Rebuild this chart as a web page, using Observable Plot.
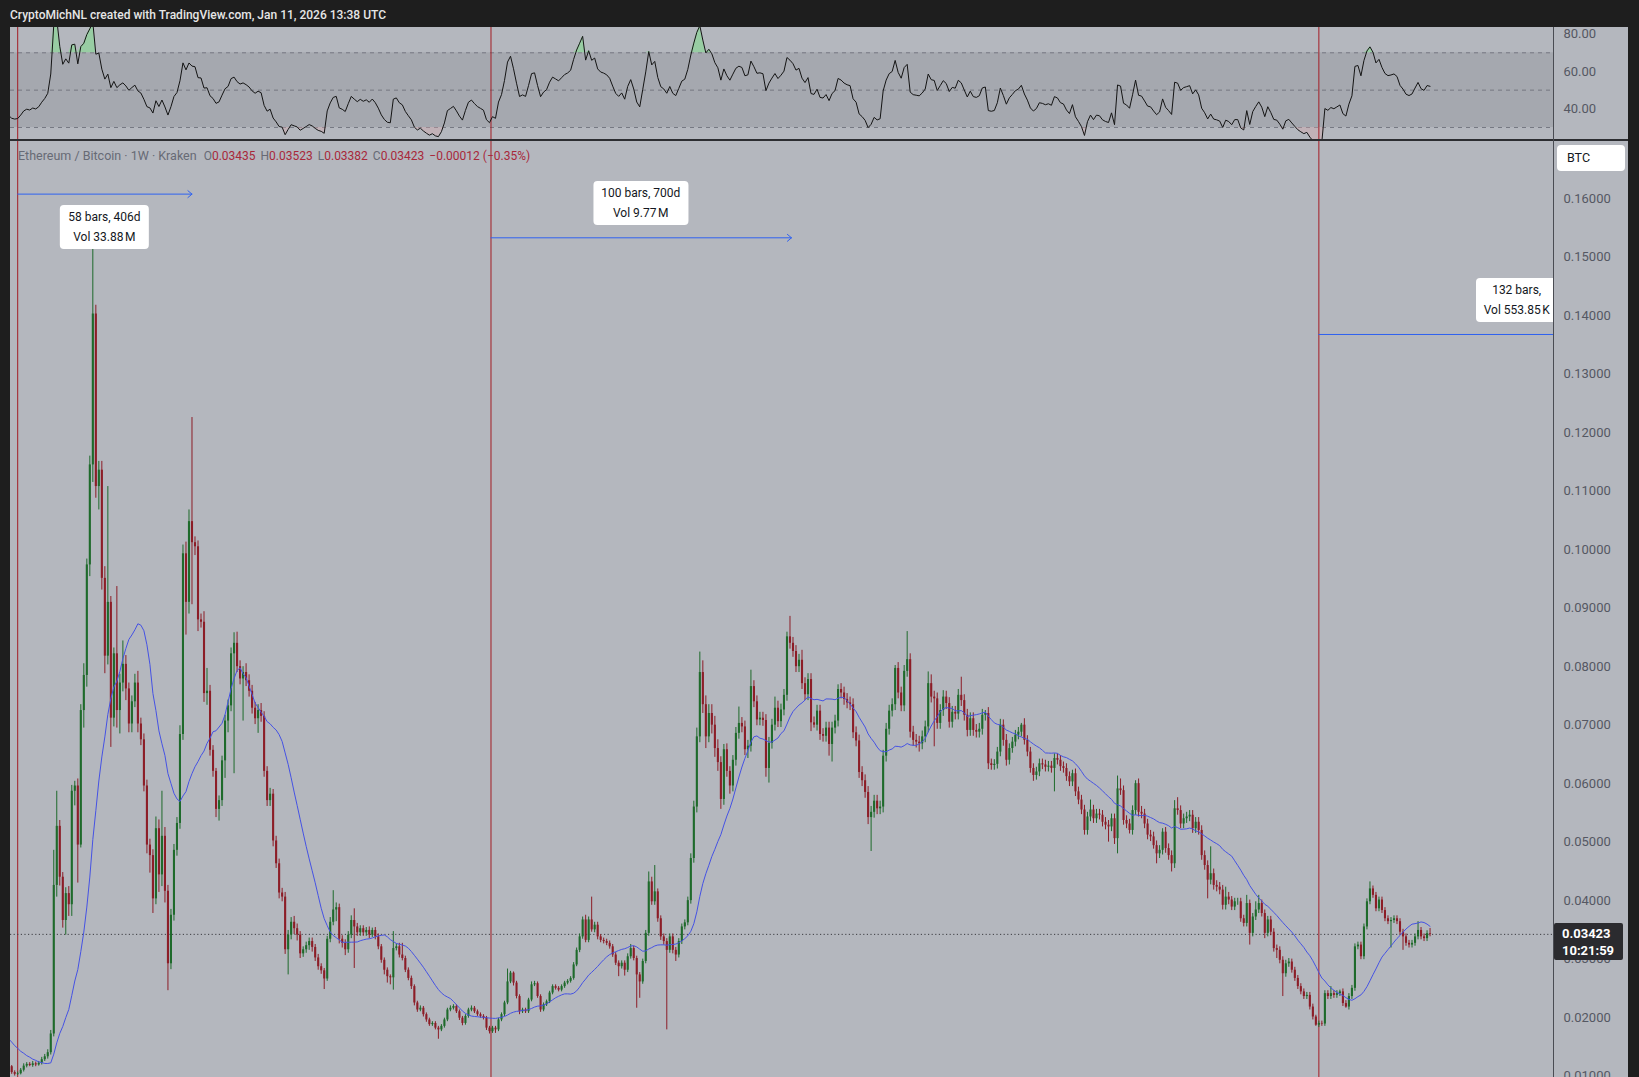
<!DOCTYPE html>
<html>
<head>
<meta charset="utf-8">
<script src="https://cdn.jsdelivr.net/npm/d3@7"></script>
<script src="https://cdn.jsdelivr.net/npm/@observablehq/plot@0.6"></script>
<style>
  html, body { margin: 0; padding: 0; background: #1e1e1e; }
  #root { position: relative; width: 1639px; height: 1077px; overflow: hidden; background: #1e1e1e; font-family: Roboto, "Noto Sans", sans-serif; }
  #title { position: absolute; left: 10px; top: 0; height: 27px; line-height: 30px; color: #e6e6e6; font-size: 12px; font-weight: 500; white-space: nowrap; }
  .panel { position: absolute; left: 10px; }
  #rsiPanel { top: 27px; }
  #mainPanel { top: 140px; }
  #ov { position: absolute; left: 10px; top: 140px; width: 1543px; height: 937px; overflow: hidden; }
  #sepH { position: absolute; left: 10px; top: 139px; width: 1618px; height: 2px; background: #2c2d31; }
  #sepV { position: absolute; left: 1553px; top: 27px; width: 1px; height: 1050px; background: #4a4c53; }
  #legend { position: absolute; left: 18px; top: 146px; font-size: 12px; line-height: 19px; white-space: nowrap; color: #676a75; }
  #legend .sym { font-size: 12.5px; }
  #legend .r { color: #a8283a; }
  #legend .gap { display: inline-block; width: 5px; }
  #legend .gap0 { display: inline-block; width: 7px; }
  .mbox { position: absolute; background: #ffffff; border-radius: 4px; color: #131722; font-size: 12px; line-height: 20px; padding: 2px 8px; text-align: center; white-space: nowrap; transform: translateX(-50%); box-sizing: border-box; height: 44px; }
  #btc { position: absolute; left: 1557px; top: 145px; width: 68px; height: 26px; background: #ffffff; border-radius: 4px; color: #131722; font-size: 12.5px; line-height: 26px; padding-left: 10px; box-sizing: border-box; }
  #lastBox { position: absolute; left: 1554px; width: 69px; height: 37px; background: #2b2b2f; color: #ffffff; font-size: 13px; font-weight: 700; line-height: 17px; padding: 2.5px 0 0 8px; box-sizing: border-box; border-radius: 2px; }
</style>
</head>
<body>
<div id="root">
  <div id="title"></div>
  <div id="rsiPanel" class="panel"></div>
  <div id="mainPanel" class="panel"></div>
  <div id="ov"></div>
  <div id="sepH"></div>
  <div id="sepV"></div>
  <div id="legend"></div>
  <div id="btc">BTC</div>
  <div id="lastBox"></div>
</div>
<script>
// ---------------- DATA ----------------
const titleText = "CryptoMichNL created with TradingView.com, Jan 11, 2026 13:38 UTC";
const symbolText = "Ethereum / Bitcoin · 1W · Kraken";
const legendKeys = ["O", "H", "L", "C"];
const legendValues = ["0.03435", "0.03523", "0.03382", "0.03423"];
const legendChange = "\u22120.00012 (\u22120.35%)";
const lastPrice = 0.03423;
const countdown = "10:21:59";
const unitLabel = "BTC";

// weekly bars, index of first value (bars before 0 lie left of the visible area)
const firstBar = -22;
// weekly closes in units of 0.0001 BTC
const closes = [
  215,225,195,212,185,200,172,188,160,176,150,164,140,152,128,140,118,128,108,116,
  106,103,104,110,117,120,118,121,119,122,
  128,133,140,172,426,527,440,366,412,393,
  587,596,495,725,785,974,1145,1403,1108,1136,
  951,818,910,712,822,725,772,804,762,702,
  740,772,702,675,596,495,477,403,523,444,
  510,416,292,375,486,532,684,993,910,1048,
  1012,1005,880,876,754,758,657,621,556,571,
  639,707,733,822,840,800,779,790,776,758,
  729,711,725,715,621,571,582,502,463,413,
  406,316,341,363,352,341,309,316,323,330,
  320,302,287,280,266,334,363,384,388,334,
  327,316,341,366,355,345,352,345,349,341,
  349,338,321,298,281,270,268,318,321,307,
  301,281,267,253,225,213,216,205,196,188,
  190,182,179,185,196,213,216,219,210,199,
  190,202,213,216,210,205,202,199,182,176,
  182,179,196,205,225,261,276,259,236,210,
  213,210,230,256,258,236,213,222,227,242,
  253,250,247,253,259,262,267,290,315,338,
  367,332,367,350,358,338,332,330,327,321,
  307,293,287,293,281,304,318,301,273,261,
  296,344,432,398,415,369,338,330,315,338,
  315,307,330,355,362,400,472,560,680,790,
  735,680,720,700,660,636,573,658,621,596,
  640,686,703,697,658,664,766,740,709,712,
  708,626,669,700,729,706,726,751,851,840,
  826,800,811,771,752,778,704,700,724,684,
  681,695,667,695,707,761,755,744,738,735,
  687,673,619,605,585,542,551,570,557,560,
  647,693,724,735,797,755,733,792,812,688,
  674,671,668,680,697,771,748,745,703,725,
  748,737,705,722,719,751,742,717,691,711,
  691,688,693,717,720,634,631,633,654,700,
  674,640,660,671,683,688,700,674,654,626,
  614,620,634,632,628,630,626,643,640,629,
  626,612,603,617,586,572,555,520,543,555,
  540,548,546,534,529,526,540,506,591,588,
  537,531,520,554,600,551,548,531,512,509,
  494,480,486,517,489,477,463,557,554,531,
  540,543,546,523,534,520,477,460,435,446,
  426,423,418,392,406,401,389,398,398,369,
  361,395,344,372,384,395,378,344,367,346,
  318,315,298,275,292,295,281,267,253,244,
  236,238,218,201,187,190,189,241,236,241,
  238,241,244,224,218,236,250,321,324,304,
  355,398,420,409,386,401,383,369,364,366,
  369,364,346,338,327,324,327,338,349,338,
  335,343.5,342.3
];
// upper wick above the body, same units
const wickUp = [
  6,6,8,6,8,6,8,6,8,6,6,6,6,6,6,5,5,5,5,5,
  2,3,3,3,4,3,3,4,3,3,
  4,4,5,6,60,60,10,8,10,12,
  10,8,12,10,20,10,15,117,15,15,
  15,20,198,10,10,115,15,40,15,10,
  10,15,20,10,10,10,10,10,20,15,
  77,15,10,10,10,10,15,15,20,20,
  178,10,10,10,18,39,10,8,5,8,
  8,10,10,10,18,19,10,10,15,10,
  10,10,10,12,8,8,10,8,8,8,
  8,8,8,8,10,8,6,5,6,6,
  6,5,6,5,4,5,8,33,8,6,
  6,6,6,8,20,6,5,5,5,6,
  4,5,5,4,4,4,3,29,5,6,
  20,4,4,4,3,3,4,3,3,3,
  3,3,3,3,3,3,4,3,3,3,
  3,3,3,4,3,3,3,3,3,3,
  3,3,3,3,3,22,3,2,3,3,
  3,3,3,5,4,3,3,3,3,3,
  3,3,3,3,3,3,3,4,4,5,
  5,8,5,39,5,5,4,4,4,4,
  4,4,4,4,4,5,7,4,4,4,
  4,5,17,8,45,5,5,5,5,5,
  5,5,5,5,5,6,8,10,15,35,
  20,15,15,15,15,15,10,9,10,8,
  8,10,28,10,10,10,28,10,10,10,
  10,10,10,10,19,12,10,10,8,35,
  10,10,10,17,10,10,10,10,10,10,
  10,10,10,10,10,8,10,10,10,10,
  10,10,10,10,10,10,10,10,10,10,
  10,10,10,10,5,10,10,10,48,10,
  10,10,10,10,10,20,15,10,10,10,
  11,10,10,10,10,10,31,10,10,10,
  10,10,10,10,5,10,8,8,8,10,
  9,10,8,8,8,8,3,11,8,8,
  8,8,8,8,8,8,8,8,8,8,
  8,8,8,6,8,8,8,8,8,17,
  8,8,8,8,8,8,8,8,22,17,
  8,8,8,8,5,8,10,8,8,8,
  8,8,8,6,8,8,8,14,19,8,
  8,8,8,8,8,8,8,8,8,46,
  8,8,8,8,17,8,6,6,6,6,
  6,14,6,6,14,14,6,6,6,6,
  6,6,6,6,6,6,5,5,5,5,
  5,5,5,5,3,4,4,5,5,12,
  5,5,3,5,5,5,5,5,5,5,
  5,5,12,5,5,5,5,5,5,5,
  5,5,5,5,5,5,5,5,15,5,
  5,5,8.8
];
// lower wick below the body, same units
const wickDown = [
  6,8,6,8,6,8,6,8,6,8,6,6,6,6,6,5,5,5,5,5,
  3,3,2,2,3,3,2,3,3,2,
  3,3,4,4,5,20,15,13,25,20,
  20,25,65,5,30,20,20,30,20,40,
  20,30,15,50,15,30,40,15,20,15,
  15,10,15,10,10,15,30,25,10,30,
  20,20,46,10,10,10,10,10,56,20,
  106,15,20,10,15,20,10,10,14,20,
  10,30,20,10,205,10,10,72,10,10,
  10,10,25,10,10,10,10,10,8,10,
  8,8,43,8,10,10,8,6,6,8,
  8,6,6,6,18,4,6,6,20,8,
  8,10,6,6,71,6,6,6,6,6,
  4,5,5,5,8,11,12,21,4,5,
  4,4,4,5,5,4,3,4,4,3,
  3,3,16,3,3,3,3,3,3,4,
  4,3,3,3,3,3,3,3,4,4,
  3,6,3,3,3,3,3,5,4,5,
  3,3,3,3,3,3,4,3,3,3,
  3,3,3,3,3,3,3,3,3,4,
  4,4,4,4,5,5,4,4,4,4,
  4,4,17,4,10,4,4,4,57,28,
  4,4,5,6,6,6,6,6,136,5,
  6,11,5,5,5,5,6,8,10,10,
  15,20,10,15,15,15,17,10,10,14,
  10,10,10,10,10,15,10,10,10,10,
  10,15,25,10,10,10,10,10,10,10,
  10,10,10,10,10,10,15,5,10,10,
  10,10,20,30,10,10,10,10,10,10,
  10,10,10,10,10,12,58,10,10,10,
  10,10,10,10,10,10,10,10,10,10,
  10,10,14,10,10,10,10,82,10,10,
  10,10,10,10,10,10,10,10,11,10,
  10,10,10,10,10,10,8,8,8,8,
  10,10,8,8,8,8,8,8,8,8,
  10,8,8,8,8,8,8,40,8,8,
  8,8,8,8,8,8,8,8,8,8,
  8,8,8,8,8,26,8,10,26,8,
  8,8,6,8,8,8,8,8,8,8,
  6,17,8,8,8,8,14,8,8,8,
  8,8,8,8,8,8,8,8,32,8,
  8,8,8,8,8,8,6,6,6,6,
  6,6,20,6,6,6,6,9,6,6,
  6,14,6,39,6,6,5,5,5,5,
  5,5,5,5,2,4,4,4,5,5,
  5,5,5,5,2,5,5,5,5,5,
  5,5,5,5,5,5,5,5,5,45,
  5,5,5,23,5,5,5,5,5,5,
  5,5,4.1
];
const priceUnit = 0.0001;

// vertical markers (bar positions) and measurement tools
const markerBars = [0, 157.5, 433];
const measureFrom = [0, 157.5, 433];
const measureTo = [58, 257.5, 565];
const measurePrice = [0.1608, 0.15333, 0.1368];
const measureLine1 = ["58 bars, 406d", "100 bars, 700d", "132 bars,"];
const measureLine2 = ["Vol 33.88\u202FM", "Vol 9.77\u202FM", "Vol 553.85\u202FK"];
const measureSide = ["below", "above", "above"];

// axes
const priceTicks = [0.01,0.02,0.03,0.04,0.05,0.06,0.07,0.08,0.09,0.10,0.11,0.12,0.13,0.14,0.15,0.16];
const rsiTicks = [40, 60, 80];
const rsiLevels = [30, 50, 70];
const rsiBand = [30, 70];
const maLength = 20;
const rsiLength = 14;

// ---------------- CHECK ----------------
if (closes.length !== wickUp.length || closes.length !== wickDown.length) {
  throw new Error("length mismatch " + closes.length + " " + wickUp.length + " " + wickDown.length);
}

// ---------------- BUILD ----------------
const GREEN = "#1e6a2b", RED = "#8c1d27";
const bars = closes.map((c, k) => {
  const o = k === 0 ? c : closes[k - 1];
  return {
    i: firstBar + k,
    open: o * priceUnit,
    close: c * priceUnit,
    high: (Math.max(o, c) + wickUp[k]) * priceUnit,
    low: (Math.min(o, c) - wickDown[k]) * priceUnit,
    col: c >= o ? GREEN : RED
  };
});

// Wilder RSI of the closes
const rsiRows = [];
{
  let g = 0, l = 0;
  for (let k = 1; k < closes.length; k++) {
    const ch = closes[k] - closes[k - 1];
    const up = Math.max(ch, 0), dn = Math.max(-ch, 0);
    if (k <= rsiLength) {
      g += up; l += dn;
      if (k === rsiLength) { g /= rsiLength; l /= rsiLength; rsiRows.push({i: firstBar + k, rsi: 100 - 100 / (1 + g / l)}); }
    } else {
      g = (g * (rsiLength - 1) + up) / rsiLength;
      l = (l * (rsiLength - 1) + dn) / rsiLength;
      rsiRows.push({i: firstBar + k, rsi: l === 0 ? 100 : 100 - 100 / (1 + g / l)});
    }
  }
}

const measures = measureFrom.map((f, k) => ({from: f, to: measureTo[k], price: measurePrice[k]}));

const xDomain = [-2.396, 511.08];
const FONT = "Roboto, 'Noto Sans', sans-serif";
const AXIS_COLOR = "#555863";
const BG = "#b4b7be";

const rsiPlot = Plot.plot({
  width: 1618, height: 113,
  marginLeft: 0, marginRight: 75, marginTop: 0, marginBottom: 0,
  style: {background: BG, fontFamily: FONT, fontSize: "13px", overflow: "visible"},
  x: {domain: xDomain, axis: null},
  y: {domain: [23.04, 83.55], axis: null},
  marks: [
    Plot.rect([rsiBand], {y1: d => d[0], y2: d => d[1], fill: "#a5a8af"}),
    Plot.ruleY(rsiLevels, {stroke: "#6f727c", strokeDasharray: "4,4", strokeWidth: 0.9}),
    Plot.areaY(rsiRows, {x: "i", y1: 70, y2: d => Math.max(70, d.rsi), fill: "#8fd49a", fillOpacity: 0.75, clip: true}),
    Plot.areaY(rsiRows, {x: "i", y1: 30, y2: d => Math.min(30, d.rsi), fill: "#d9a5ab", fillOpacity: 0.35, clip: true}),
    Plot.ruleX(markerBars, {stroke: "#a31c24", strokeWidth: 1}),
    Plot.line(rsiRows, {x: "i", y: "rsi", stroke: "#141414", strokeWidth: 1, clip: true}),
    Plot.axisY(rsiTicks, {anchor: "right", label: null, tickSize: 0, tickPadding: 10, tickFormat: d => d.toFixed(2), fill: AXIS_COLOR})
  ]
});
document.getElementById("rsiPanel").appendChild(rsiPlot);

const mainPlot = Plot.plot({
  width: 1618, height: 937,
  marginLeft: 0, marginRight: 75, marginTop: 0, marginBottom: 0,
  style: {background: BG, fontFamily: FONT, fontSize: "13px", overflow: "visible"},
  x: {domain: xDomain, axis: null},
  y: {domain: [0.009758, 0.169968], axis: null},
  marks: [
    Plot.ruleX(markerBars, {stroke: "#a31c24", strokeWidth: 1}),
    Plot.ruleY([lastPrice], {stroke: "#3c3d42", strokeDasharray: "1.2,2.4", strokeWidth: 1}),
    Plot.ruleX(bars, {x: "i", y1: "low", y2: "high", stroke: "col", strokeWidth: 1, clip: true}),
    Plot.ruleX(bars, {x: "i", y1: "open", y2: "close", stroke: "col", strokeWidth: 2.1, clip: true}),
    Plot.lineY(bars, Plot.windowY({k: maLength, anchor: "end"}, {x: "i", y: "close", stroke: "#4552e4", strokeWidth: 1, clip: true})),
    Plot.arrow(measures, {x1: "from", x2: "to", y1: "price", y2: "price", stroke: "#2f62f0", strokeWidth: 1, headLength: 8, headAngle: 80, clip: true}),
    Plot.axisY(priceTicks, {anchor: "right", label: null, tickSize: 0, tickPadding: 10, tickFormat: d => d.toFixed(5), fill: AXIS_COLOR})
  ]
});
document.getElementById("mainPanel").appendChild(mainPlot);

// ---------------- TEXT / OVERLAYS ----------------
document.getElementById("title").textContent = titleText;

const legend = document.getElementById("legend");
let html = `<span class="sym">${symbolText}</span><span class="gap0"></span>`;
legendKeys.forEach((k, j) => { html += `<span>${k}</span><span class="r">${legendValues[j]}</span><span class="gap"></span>`; });
html += `<span class="r">${legendChange}</span>`;
legend.innerHTML = html;

const sx = mainPlot.scale("x"), sy = mainPlot.scale("y");
const ov = document.getElementById("ov");
measures.forEach((m, k) => {
  const div = document.createElement("div");
  div.className = "mbox";
  div.innerHTML = `${measureLine1[k]}<br>${measureLine2[k]}`;
  const cx = sx.apply((m.from + m.to) / 2);
  const ay = sy.apply(m.price);
  div.style.left = cx + "px";
  div.style.top = (measureSide[k] === "below" ? ay + 11.3 : ay - 12.3 - 44) + "px";
  ov.appendChild(div);
});

document.getElementById("btc").textContent = unitLabel;
const lb = document.getElementById("lastBox");
lb.innerHTML = `${lastPrice.toFixed(5)}<br>${countdown}`;
lb.style.top = (140 + sy.apply(lastPrice) - 11) + "px";
</script>
</body>
</html>
